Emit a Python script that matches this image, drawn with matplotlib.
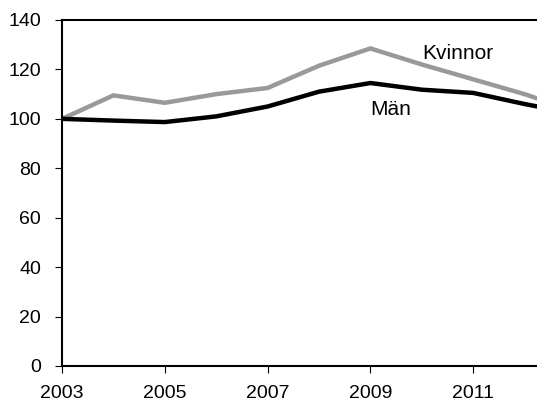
import matplotlib
matplotlib.use("Agg")
import matplotlib.pyplot as plt

plt.rcParams['font.family'] = ['Liberation Sans', 'DejaVu Sans']

years = [2003, 2004, 2005, 2006, 2007, 2008, 2009, 2010, 2011, 2012, 2013]
kvinnor = [100, 109.5, 106.5, 110, 112.5, 121.5, 128.5, 122, 116, 110, 103]
man = [100, 99.3, 98.7, 101, 105, 111, 114.5, 111.8, 110.5, 106, 102]

fig = plt.figure(figsize=(5.37, 4.01), dpi=100)
ax = fig.add_axes([62/537, 35/401, 514/537, 346/401])

ax.plot(years, kvinnor, color='#999999', linewidth=3.2, solid_joinstyle='miter')
ax.plot(years, man, color='black', linewidth=3.2, solid_joinstyle='miter')

ax.text(2010, 124.2, 'Kvinnor', fontsize=15, va='baseline', ha='left')
ax.text(2009, 101.6, 'Män', fontsize=15, va='baseline', ha='left')

ax.set_xlim(2003, 2013)
ax.set_ylim(0, 140)
ax.set_xticks([2003, 2005, 2007, 2009, 2011])
ax.set_yticks([0, 20, 40, 60, 80, 100, 120, 140])

ax.spines['right'].set_visible(False)
for s in ['left', 'bottom', 'top']:
    ax.spines[s].set_linewidth(1.5)
ax.tick_params(axis='both', labelsize=14, length=5, width=0.8, direction='out')
ax.tick_params(axis='y', pad=10)
ax.tick_params(axis='x', pad=9)

plt.savefig("out.png", dpi=100)
